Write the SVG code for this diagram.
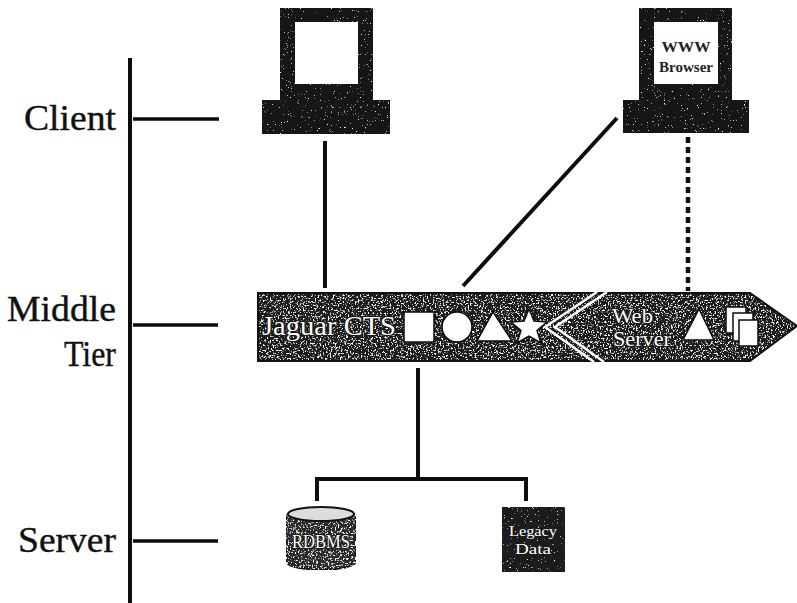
<svg xmlns="http://www.w3.org/2000/svg" width="797" height="603" viewBox="0 0 797 603">
<style>
.lbl{font-family:"Liberation Serif","DejaVu Serif",serif;font-size:36px;fill:#111;stroke:#111;stroke-width:.4px}
.ban{font-family:"Liberation Serif","DejaVu Serif",serif;fill:#fff;stroke:#1a1a1a;stroke-width:2.5px;paint-order:stroke;stroke-linejoin:round}
.ln{stroke:#0d0d0d;stroke-width:4;fill:none}
.wh{fill:#fff;stroke:#0d0d0d;stroke-width:1.5}
</style>
<defs>
<filter id="heavy" x="0" y="0" width="100%" height="100%">
<feTurbulence type="fractalNoise" baseFrequency="0.6" numOctaves="2" seed="4" result="n"/>
<feColorMatrix in="n" type="matrix" values="0 0 0 0 1 0 0 0 0 1 0 0 0 0 1 5 5 0 0 -5.4" result="s"/>
<feComposite in="s" in2="SourceAlpha" operator="in" result="c"/>
<feMerge><feMergeNode in="SourceGraphic"/><feMergeNode in="c"/></feMerge>
</filter>
<filter id="light" x="0" y="0" width="100%" height="100%">
<feTurbulence type="fractalNoise" baseFrequency="0.7" numOctaves="2" seed="9" result="n"/>
<feColorMatrix in="n" type="matrix" values="0 0 0 0 1 0 0 0 0 1 0 0 0 0 1 5 5 0 0 -6.5" result="s"/>
<feComposite in="s" in2="SourceAlpha" operator="in" result="c"/>
<feMerge><feMergeNode in="SourceGraphic"/><feMergeNode in="c"/></feMerge>
</filter>
</defs>
<rect width="797" height="603" fill="#fff"/>
<g id="connectors" class="ln">
<path d="M130 58V603"/>
<path d="M133 119H219M133 325H218M133 541H218" stroke-width="3.500"/>
<path d="M325 141V288"/>
<path d="M617 118L463 286"/>
<path d="M688 137V291" stroke-dasharray="6 4" stroke-width="4.500"/>
<path d="M418 368V477"/>
<path d="M317 501V479H526V501"/>
</g>
<g id="tier-labels">
<text class="lbl" x="24" y="130" textLength="92" lengthAdjust="spacingAndGlyphs">Client</text>
<text class="lbl" x="7" y="321" textLength="109" lengthAdjust="spacingAndGlyphs">Middle</text>
<text class="lbl" x="64" y="366" textLength="52" lengthAdjust="spacingAndGlyphs">Tier</text>
<text class="lbl" x="18" y="552" textLength="98" lengthAdjust="spacingAndGlyphs">Server</text>
</g>
<g id="client-left">
<path d="M280 8H373V100H390V134H262V100H280Z" fill="#161616" filter="url(#light)"/>
<rect x="295" y="22" width="63" height="62" fill="#fff"/>
</g>
<g id="client-browser">
<path d="M639 8H732V100H749V133H623V100H639Z" fill="#161616" filter="url(#light)"/>
<rect x="654" y="22" width="64" height="62" fill="#fff"/>
<text x="686" y="52" text-anchor="middle" font-family="Liberation Serif, serif" font-size="15" font-weight="bold" fill="#222" textLength="49" lengthAdjust="spacingAndGlyphs">WWW</text>
<text x="686" y="72" text-anchor="middle" font-family="Liberation Serif, serif" font-size="14" font-weight="bold" fill="#222" textLength="54" lengthAdjust="spacingAndGlyphs">Browser</text>
</g>
<g id="middle-tier">
<path d="M258 293H750L797 326L750 361H258Z" fill="#1e1e1e" filter="url(#heavy)"/>
<path d="M258 293H750L797 326L750 361H258Z" fill="none" stroke="#111" stroke-width="2"/>
<path d="M607 292L555 327L604 362M597 292L545 327L594 362" fill="none" stroke="#fff" stroke-width="2.500"/>
</g>
<g id="jaguar-cts">
<text class="ban" x="262" y="335" font-size="27" textLength="134" lengthAdjust="spacingAndGlyphs">Jaguar CTS</text>
<rect class="wh" x="404" y="312" width="30" height="30"/>
<circle class="wh" cx="457" cy="327" r="15"/>
<path class="wh" d="M493 312L512 341H477Z"/>
<path class="wh" d="M529 309L534 321L547 322L537 330.500L541 343L529 336L517 343L521 330.500L511 322L524 321Z"/>
</g>
<g id="web-server">
<text class="ban" x="612" y="323" font-size="22" textLength="41" lengthAdjust="spacingAndGlyphs">Web</text>
<text class="ban" x="613" y="346" font-size="22" textLength="58" lengthAdjust="spacingAndGlyphs">Server</text>
<path class="wh" d="M699 309L714 340H683Z"/>
<rect class="wh" x="726" y="307" width="20" height="26"/>
<rect class="wh" x="733" y="313" width="20" height="28"/>
<rect class="wh" x="739" y="320" width="19" height="26"/>
</g>
<g id="rdbms">
<path d="M286 517C286 505 356 505 356 517V561C356 573 286 573 286 561Z" fill="#2b2b2b" stroke="#111" stroke-width="1.500" filter="url(#heavy)"/>
<ellipse cx="321" cy="514" rx="33" ry="7" fill="#ddd" stroke="#111" stroke-width="2"/>
<text class="ban" x="321" y="548" font-size="19" text-anchor="middle" textLength="58" lengthAdjust="spacingAndGlyphs">RDBMS</text>
</g>
<g id="legacy-data">
<rect x="502" y="507" width="63" height="65" fill="#1a1a1a" filter="url(#light)"/>
<text class="ban" x="533" y="536" font-size="15" text-anchor="middle" textLength="48" lengthAdjust="spacingAndGlyphs">Legacy</text>
<text class="ban" x="533" y="554" font-size="15" text-anchor="middle" textLength="36" lengthAdjust="spacingAndGlyphs">Data</text>
</g>
</svg>
